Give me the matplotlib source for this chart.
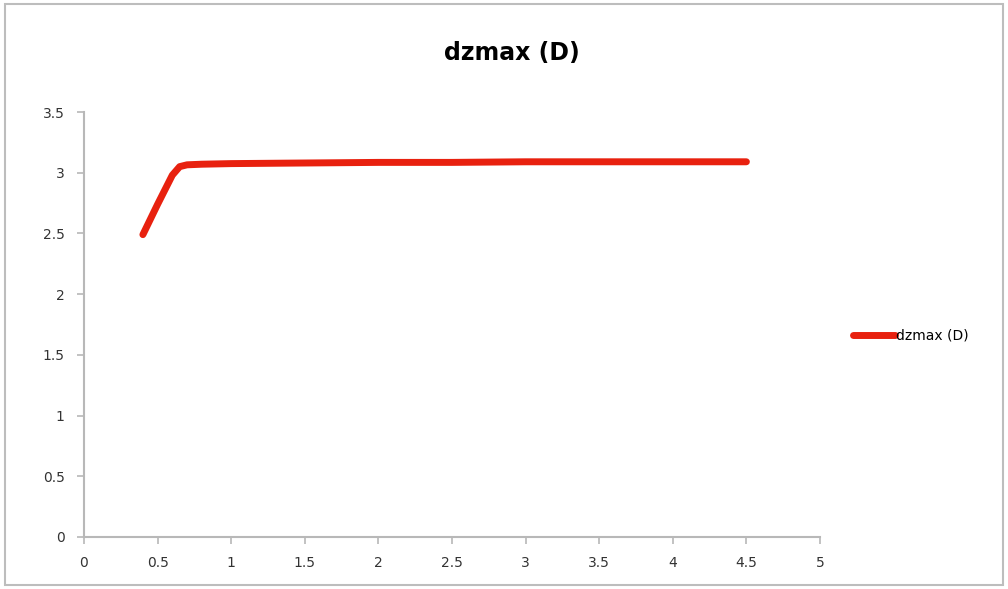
import numpy as np
import matplotlib.pyplot as plt
from matplotlib.patches import Rectangle

# series values
x_vals = [0.4, 0.5, 0.6, 0.65, 0.7, 0.8, 1.0, 1.5, 2.0, 2.5, 3.0, 3.5, 4.0, 4.5]
dzmax = [2.49, 2.74, 2.98, 3.05, 3.065, 3.07, 3.075, 3.08, 3.085, 3.085, 3.09, 3.09, 3.09, 3.09]

x_ticks = [0, 0.5, 1, 1.5, 2, 2.5, 3, 3.5, 4, 4.5, 5]
y_ticks = [0, 0.5, 1, 1.5, 2, 2.5, 3, 3.5]

red = '#e8210f'
grey = '#b8b8b8'

fig = plt.figure(figsize=(10.08, 5.89), dpi=100)
ax = fig.add_axes([84 / 1008, 52 / 589, 736 / 1008, 425 / 589])

line, = ax.plot(x_vals, dzmax, color=red, lw=5, solid_capstyle='round',
                solid_joinstyle='round', label='dzmax (D)')

ax.set_xlim(0, 5)
ax.set_ylim(0, 3.5)
ax.set_xticks(x_ticks)
ax.set_xticklabels(['0', '0.5', '1', '1.5', '2', '2.5', '3', '3.5', '4', '4.5', '5'])
ax.set_yticks(y_ticks)
ax.set_yticklabels(['0', '0.5', '1', '1.5', '2', '2.5', '3', '3.5'])

for side in ('top', 'right'):
    ax.spines[side].set_visible(False)
for side in ('left', 'bottom'):
    ax.spines[side].set_color(grey)
    ax.spines[side].set_linewidth(1.5)
ax.tick_params(direction='out', length=5, width=1.2, color=grey,
               labelsize=10, labelcolor='#333333', pad=9)

fig.suptitle('dzmax (D)', x=0.508, y=0.93, fontsize=17, fontweight='bold')

fig.legend(handles=[line], loc='center left', bbox_to_anchor=(0.834, 0.43),
           frameon=False, fontsize=10, handlelength=3.0, handletextpad=0.05)

# chart frame
fig.patches.append(Rectangle((0.005, 0.006), 0.99, 0.988, transform=fig.transFigure,
                             fill=False, edgecolor='#bdbdbd', lw=1.5))

fig.savefig('out.png', dpi=100)
